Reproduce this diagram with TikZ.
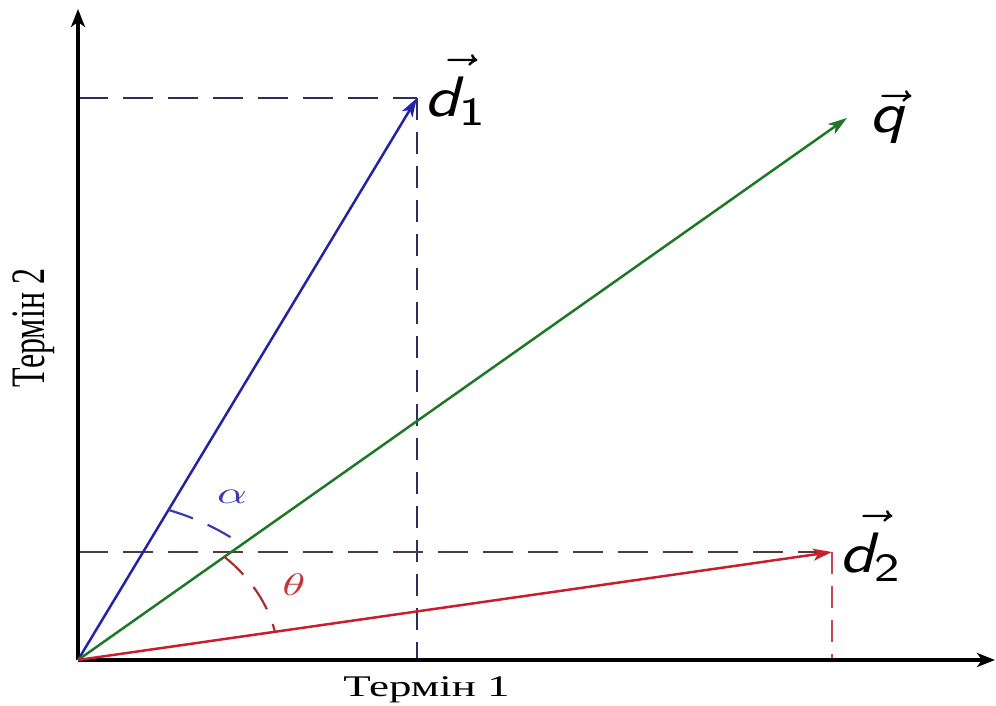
\documentclass[tikz,border=0pt]{standalone}
\usepackage{amsmath}
\usepackage{fontspec}
\newfontfamily\tnr{Liberation Serif}
\usetikzlibrary{arrows.meta,calc}
\definecolor{vblue}{RGB}{35,35,165}
\definecolor{vgreen}{RGB}{30,120,40}
\definecolor{vred}{RGB}{200,30,45}
\definecolor{dblue}{RGB}{45,45,95}
\definecolor{dgray}{RGB}{80,60,60}
\definecolor{dred}{RGB}{200,70,80}
\definecolor{lalpha}{RGB}{60,60,170}
\definecolor{ltheta}{RGB}{195,55,55}
% #1 letter, #2 subscript, #3 shift of the arrow accent, #4 raise of the accent
\newcommand\vlab[4]{\scalebox{6.8}[5.7]{\rlap{\kern#3\raisebox{#4}{$\vec{\phantom{\text{\sffamily #1}}}$}}$\text{\sffamily\itshape #1}_{\text{\sffamily #2}}$}}
\begin{document}
\begin{tikzpicture}[x=1pt,y=1pt,
  axis/.style={line width=3.4pt,-{Stealth[length=18pt,width=14pt,inset=5pt]}},
  vec/.style={line width=2.5pt,-{Stealth[length=19pt,width=12pt,inset=5pt]}},
  hdash/.style={line width=1.8pt,dash pattern=on 30pt off 15pt},
  vdash/.style={line width=1.8pt,dash pattern=on 22pt off 12pt},
  arcdash/.style={line width=2.2pt,dash pattern=on 26pt off 16pt},
  lbl/.style={inner sep=0pt}]
\useasboundingbox (0,0) rectangle (996,706);
\coordinate (O) at (78,46);
\coordinate (X) at (995,46);
\coordinate (Y) at (78,697);
\coordinate (D1) at (417,608);
\coordinate (Q) at (847,588);
\coordinate (D2) at (832,154);
\coordinate (D1y) at (78,608);
\coordinate (D1x) at (417,46);
\coordinate (D2y) at (78,154);
\coordinate (D2x) at (832,46);
% dashed projections
\draw[hdash,dblue] (D1y) -- (D1);
\draw[vdash,dblue] (D1) -- (D1x);
\draw[hdash,dgray] (D2y) -- (D2);
\draw[vdash,dred,line width=1.5pt] (D2) -- (D2x);
% axes
\draw[axis] (O) -- (X);
\draw[axis] (O) -- (Y);
% vectors
\draw[vec,vblue] (O) -- (D1);
\draw[vec,vgreen] (O) -- (Q);
\draw[vec,vred] (O) -- (D2);
% angle arcs
\draw[arcdash,lalpha] ($(O)+(67.07:232 and 163)$) arc[start angle=67.07,end angle=45.05,x radius=232,y radius=163];
\draw[arcdash,ltheta!85!black] ($(O)+(43.1:200.5 and 151)$) arc[start angle=43.1,end angle=10.77,x radius=200.5,y radius=151];
% labels
\node[lbl,anchor=base west] (l1) at (424,589) {\vlab{d}{1}{2.4pt}{1.1pt}};
\node[lbl,anchor=base west] (lq) at (869,573) {\vlab{q}{}{0.7pt}{0pt}};
\node[lbl,anchor=base west] (l2) at (839,133) {\vlab{d}{2}{2.4pt}{1.1pt}};
\node[lbl,text=lalpha] (la) at (232,209) {\scalebox{4.65}[3.1]{$\alpha$}};
\node[lbl,text=ltheta] (lt) at (294,121) {\scalebox{4.65}[3.1]{$\theta$}};
\node[lbl,anchor=base] (t1) at (426.5,9) {\scalebox{4.5}[3]{\tnr Термін 1}};
\node[lbl,anchor=base,rotate=90] (t2) at (45,378) {\scalebox{3.2}[4.8]{\tnr Термін 2}};
\end{tikzpicture}
\end{document}
